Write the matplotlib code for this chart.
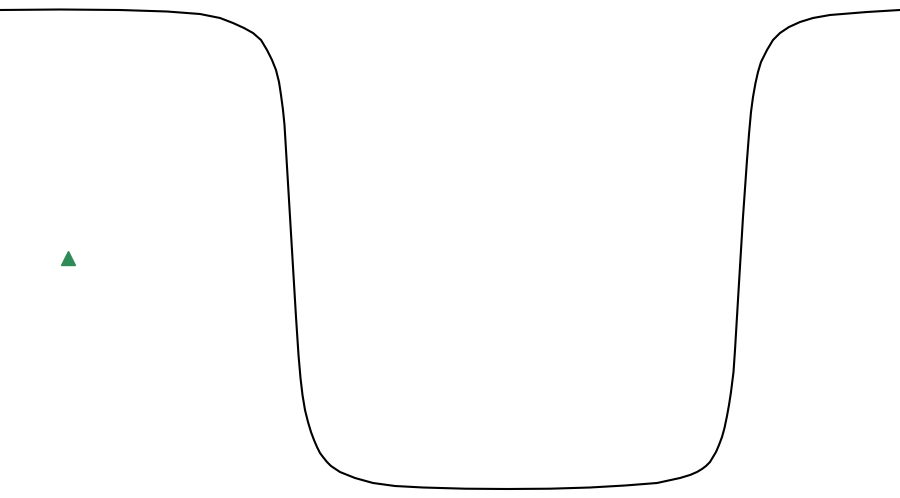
import matplotlib
matplotlib.use('Agg')
import matplotlib.pyplot as plt

# Curve, in pixel units (x right, y down)
curve_x = [0, 60, 120, 167, 200, 220, 233, 244, 253, 261, 267, 272, 276,
           279, 281, 283, 284.5, 286, 289, 293, 296, 298.5, 300.5, 302.5,
           305, 308, 311, 314, 317, 320, 323, 327, 331, 340, 355, 373, 395,
           423, 465, 507, 550, 590, 625, 657, 680, 690, 697, 702, 706, 710,
           713, 716, 719, 722, 724.5, 727, 729, 731, 733.5, 735, 739, 743,
           747, 749, 751, 753, 755.5, 758, 761, 767, 773, 780, 789, 800, 813,
           830, 867, 900]
curve_y = [10, 9.5, 10, 11.5, 14, 18, 23, 28, 33, 40, 50, 60, 70,
           82, 95, 110, 125, 150, 200, 267, 317, 355, 378, 395,
           410, 422, 432, 440, 447, 453, 457, 462, 466, 472, 478, 483, 486,
           487.5, 488.7, 489, 488.7, 487.5, 485.5, 483, 478, 475, 472, 469,
           466, 462, 457, 452, 445, 437, 428, 416, 405, 392, 372, 350, 283,
           217, 160, 134, 112, 97, 83, 72, 62, 50, 40, 33, 27, 22, 18,
           15, 12, 10]

# Marker
marker_x = [68]
marker_y = [258]


def main():
    fig = plt.figure(figsize=(9, 4.98), dpi=100)
    ax = fig.add_axes([0, 0, 1, 1])

    ax.plot(curve_x, curve_y, color='black', linewidth=1.5,
            solid_joinstyle='round', solid_capstyle='round')
    ax.plot(marker_x, marker_y, linestyle='none', marker='^',
            markersize=10, color='#2e8b57')

    ax.set_xlim(0, 900)
    ax.set_ylim(498, 0)
    ax.axis('off')

    fig.savefig('out.png', dpi=100)


if __name__ == '__main__':
    main()
